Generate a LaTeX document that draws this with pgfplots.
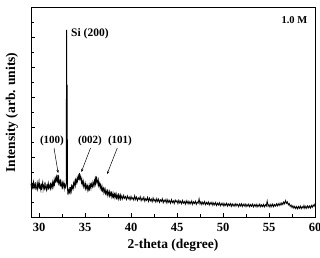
\documentclass[border=0pt]{standalone}
\usepackage{fontspec}
\setmainfont{Liberation Serif}
\usepackage{pgfplots}
\pgfplotsset{compat=1.18}
\usetikzlibrary{arrows.meta}
\begin{document}
\begin{tikzpicture}
\begin{axis}[
  scale only axis, width=284pt, height=209pt,
  xmin=29.13, xmax=60, ymin=0, ymax=209,
  xtick={30,35,...,60}, minor xtick={32.5,37.5,...,57.5},
  ytick={30,60,...,180}, minor ytick={15,45,...,195},
  yticklabels={},
  tick pos=left, tick align=inside,
  major tick length=4pt, minor tick length=2.7pt,
  every tick/.style={black, line width=0.8pt},
  axis line style={line width=1pt},
  /pgf/number format/assume math mode=true,
  ticklabel style={font=\bfseries\fontsize{12.5}{14}\selectfont},
  xticklabel style={yshift=-2.5pt},
  xlabel={\bfseries 2-theta (degree)},
  ylabel={\bfseries Intensity (arb. units)},
  label style={font=\bfseries\fontsize{13.5}{15}\selectfont},
  xlabel style={at={(axis description cs:0.5,-0.135)}, anchor=center},
  ylabel style={at={(axis description cs:-0.067,0.5)}, anchor=center},
  clip=false,
]
\addplot[black, line width=0.8pt] table {
29.13 33.5
29.2 28.0
29.25 34.2
29.3 30.1
29.4 35.0
29.45 27.6
29.5 32.4
29.6 29.0
29.65 34.8
29.7 30.5
29.8 27.2
29.85 33.1
29.9 29.8
30.0 35.6
30.05 28.3
30.1 31.9
30.2 27.0
30.25 33.4
30.3 29.5
30.4 34.6
30.45 27.9
30.5 31.2
30.6 28.4
30.65 35.1
30.7 30.0
30.8 26.8
30.85 32.7
30.9 28.9
31.0 33.8
31.05 27.5
31.1 31.6
31.2 29.2
31.25 34.4
31.3 28.6
31.4 32.9
31.45 30.1
31.5 35.3
31.6 31.0
31.65 36.8
31.7 33.2
31.8 38.4
31.85 34.5
31.9 40.2
32.0 36.0
32.05 42.0
32.1 35.5
32.15 38.8
32.2 33.0
32.3 36.4
32.35 30.6
32.4 34.9
32.5 29.8
32.55 33.7
32.6 30.2
32.7 34.5
32.75 28.9
32.8 32.3
32.9 29.4
32.95 31.5
33.0 187
33.03 33
33.06 132
33.1 28
33.15 22.0
33.2 27.0
33.3 24.5
33.35 29.8
33.4 25.0
33.5 30.2
33.55 26.4
33.6 31.0
33.7 28.2
33.75 33.4
33.8 30.5
33.9 35.6
33.95 32.0
34.0 37.4
34.1 33.9
34.15 39.0
34.2 36.2
34.3 41.0
34.35 37.3
34.4 44.0
34.45 38.5
34.5 40.6
34.6 35.0
34.65 37.8
34.7 32.4
34.8 36.1
34.85 30.9
34.9 33.6
35.0 29.4
35.05 32.8
35.1 28.3
35.2 31.9
35.25 27.6
35.3 30.7
35.4 27.2
35.45 31.5
35.5 28.1
35.6 32.4
35.65 29.0
35.7 33.1
35.8 30.2
35.85 34.0
35.9 31.4
36.0 35.8
36.05 32.6
36.1 37.2
36.15 34.0
36.2 41.0
36.25 35.5
36.3 38.0
36.4 33.2
36.45 36.4
36.5 31.0
36.6 34.2
36.65 29.2
36.7 31.8
36.8 27.4
36.85 30.5
36.9 26.2
37.0 28.9
37.05 24.8
37.1 27.6
37.2 23.9
37.25 27.0
37.3 23.0
37.4 26.2
37.45 22.4
37.5 25.5
37.6 21.8
37.65 25.0
37.7 21.2
37.8 24.4
37.85 20.6
37.9 23.8
38.0 20.4
38.05 23.5
38.1 19.8
38.2 23.0
38.25 19.5
38.3 22.6
38.4 19.2
38.45 22.4
38.5 18.9
38.6 22.0
38.65 18.6
38.7 21.8
38.8 18.4
38.85 21.5
38.9 18.1
39.0 21.2
39.1 18.0
39.2 21.6
39.3 18.6
39.4 20.5
39.5 17.4
39.6 21.1
39.7 18.2
39.8 20.0
39.9 17.0
40.0 20.6
40.1 17.8
40.2 19.4
40.3 16.9
40.4 21.3
40.5 17.5
40.6 19.9
40.7 16.4
40.8 19.1
40.9 17.6
41.0 20.3
41.1 16.2
41.2 18.8
41.3 16.9
41.4 19.9
41.5 15.8
41.6 18.4
41.7 16.6
41.8 19.7
41.9 15.6
42.0 18.9
42.1 16.1
42.2 18.0
42.3 15.2
42.4 19.0
42.5 15.9
42.6 17.6
42.7 14.8
42.8 18.4
42.9 15.5
43.0 17.9
43.1 14.7
43.2 17.2
43.3 15.6
43.4 18.3
43.5 14.2
43.6 17.0
43.7 15.1
43.8 17.6
43.9 13.9
44.0 17.3
44.1 14.6
44.2 16.5
44.3 13.8
44.4 17.4
44.5 14.4
44.6 16.2
44.7 13.5
44.8 17.0
44.9 14.9
45.0 16.4
45.1 13.4
45.2 16.8
45.3 14.1
45.4 15.8
45.5 13.2
45.6 16.6
45.7 13.9
45.8 15.5
45.9 12.8
46.0 16.3
46.1 13.6
46.2 15.9
46.3 12.9
46.4 15.4
46.5 13.3
46.6 16.1
46.7 12.6
46.8 15.2
46.9 13.5
47.0 15.8
47.1 12.7
47.2 15.0
47.3 13.8
47.4 18.2
47.5 13.0
47.6 15.3
47.7 12.4
47.8 14.9
47.9 12.9
48.0 15.5
48.1 12.3
48.2 14.6
48.3 12.8
48.4 15.1
48.5 11.9
48.6 14.4
48.7 12.6
48.8 14.8
48.9 11.7
49.0 14.2
49.1 12.2
49.2 14.5
49.3 11.5
49.4 13.8
49.5 12.0
49.6 14.3
49.7 11.2
49.8 13.6
49.9 11.8
50.0 13.9
50.1 10.9
50.2 13.4
50.3 11.6
50.4 13.8
50.5 10.8
50.6 13.1
50.7 11.4
50.8 13.5
50.9 10.6
51.0 13.2
51.1 11.1
51.2 12.9
51.3 10.7
51.4 13.4
51.5 11.3
51.6 12.8
51.7 10.4
51.8 13.0
51.9 11.0
52.0 13.3
52.1 10.5
52.2 12.7
52.3 10.9
52.4 13.1
52.5 10.3
52.6 12.6
52.7 10.8
52.8 12.9
52.9 10.2
53.0 12.5
53.1 10.7
53.2 12.8
53.3 10.1
53.4 12.4
53.5 10.6
53.6 12.7
53.7 10.0
53.8 12.3
53.9 10.5
54.0 12.9
54.1 10.2
54.2 12.2
54.3 10.4
54.4 12.6
54.5 10.1
54.6 12.3
54.7 10.8
54.8 16.0
54.9 10.6
55.0 12.4
55.1 10.0
55.2 12.7
55.3 10.4
55.4 12.9
55.5 10.3
55.6 12.5
55.7 10.9
55.8 13.2
55.9 11.0
56.0 13.4
56.1 11.4
56.2 13.8
56.3 11.8
56.4 14.2
56.5 12.4
56.6 15.0
56.7 13.2
56.8 16.4
56.9 13.6
57.0 15.2
57.1 12.1
57.2 13.5
57.3 10.6
57.4 12.0
57.5 9.4
57.6 11.3
57.7 8.8
57.8 10.7
57.9 8.4
58.0 10.5
58.1 8.2
58.2 10.6
58.3 8.6
58.4 11.0
58.5 8.3
58.6 10.4
58.7 8.9
58.8 11.5
58.9 8.5
59.0 10.8
59.1 8.7
59.2 11.2
59.3 9.1
59.4 11.0
59.5 8.9
59.6 11.6
59.7 9.6
59.8 12.0
59.9 10.6
60.0 13.5
};
\node[anchor=west, font=\bfseries\fontsize{11.5}{13}\selectfont] at (axis cs:33.12,183) {Si (200)};
\node[anchor=north east, font=\bfseries\fontsize{10.5}{12}\selectfont] at (rel axis cs:0.985,0.975) {1.0 M};
\node[font=\bfseries\fontsize{11}{12}\selectfont] at (axis cs:31.41,76) {(100)};
\node[font=\bfseries\fontsize{11}{12}\selectfont] at (axis cs:35.54,76) {(002)};
\node[font=\bfseries\fontsize{11}{12}\selectfont] at (axis cs:38.8,76) {(101)};
\draw[-{Stealth[length=3pt,width=2.5pt]}, line width=0.5pt] (axis cs:31.63,69) -- (axis cs:32.08,44);
\draw[-{Stealth[length=3pt,width=2.5pt]}, line width=0.5pt] (axis cs:35.6,69) -- (axis cs:34.6,45);
\draw[-{Stealth[length=3pt,width=2.5pt]}, line width=0.5pt] (axis cs:38.51,69) -- (axis cs:37.4,43);
\end{axis}
\pgfresetboundingbox
\path[use as bounding box] ([shift={(-31pt,-40pt)}]current axis.south west) rectangle ([shift={(5pt,8pt)}]current axis.north east);
\end{tikzpicture}
\end{document}
